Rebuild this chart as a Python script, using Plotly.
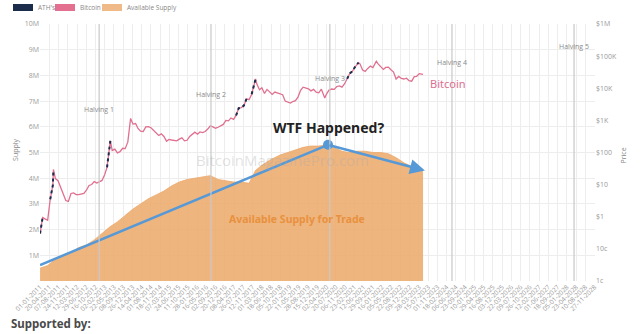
import plotly.graph_objects as go

# ---------------- data ----------------
price_dates = [
    "2011-01-01","2011-02-01","2011-03-01","2011-04-01","2011-05-01","2011-06-01","2011-06-08",
    "2011-07-01","2011-08-01","2011-09-01","2011-10-01","2011-11-01","2011-12-01",
    "2012-01-01","2012-02-01","2012-03-01","2012-04-01","2012-05-01","2012-06-01",
    "2012-07-01","2012-08-01","2012-09-01","2012-10-01","2012-11-01","2012-12-01",
    "2013-01-01","2013-02-01","2013-03-01","2013-04-09","2013-05-01","2013-06-01",
    "2013-07-01","2013-08-01","2013-09-01","2013-10-01","2013-11-01","2013-12-04",
    "2014-01-01","2014-02-01","2014-03-01","2014-04-01","2014-05-01","2014-06-01",
    "2014-07-01","2014-08-01","2014-09-01","2014-10-01","2014-11-01","2014-12-01",
    "2015-01-01","2015-02-01","2015-03-01","2015-04-01","2015-05-01","2015-06-01",
    "2015-07-01","2015-08-01","2015-09-01","2015-10-01","2015-11-01","2015-12-01",
    "2016-01-01","2016-02-01","2016-03-01","2016-04-01","2016-05-01","2016-06-01",
    "2016-07-01","2016-08-01","2016-09-01","2016-10-01","2016-11-01","2016-12-01",
    "2017-01-01","2017-02-01","2017-03-01","2017-04-01","2017-05-01","2017-06-01",
    "2017-07-01","2017-08-01","2017-09-01","2017-10-01","2017-11-01","2017-12-17",
    "2018-01-01","2018-02-01","2018-03-01","2018-04-01","2018-05-01","2018-06-01",
    "2018-07-01","2018-08-01","2018-09-01","2018-10-01","2018-11-01","2018-12-01",
    "2019-01-01","2019-02-01","2019-03-01","2019-04-01","2019-05-01","2019-06-01",
    "2019-07-01","2019-08-01","2019-09-01","2019-10-01","2019-11-01","2019-12-01",
    "2020-01-01","2020-02-01","2020-03-12","2020-04-01","2020-05-01","2020-06-01",
    "2020-07-01","2020-08-01","2020-09-01","2020-10-01","2020-11-01","2020-12-01",
    "2021-01-01","2021-02-01","2021-03-01","2021-04-14","2021-05-01","2021-06-01",
    "2021-07-01","2021-08-01","2021-09-01","2021-10-01","2021-11-10","2021-12-01",
    "2022-01-01","2022-02-01","2022-03-01","2022-04-01","2022-05-01","2022-06-01",
    "2022-07-01","2022-08-01","2022-09-01","2022-10-01","2022-11-01","2022-12-01",
    "2023-01-01","2023-02-01","2023-03-01","2023-04-01","2023-05-15",
]
price_values = [
    0.30, 0.95, 0.86, 0.78, 3.5, 9.6, 29.6,
    15.4, 13.3, 8.2, 5.1, 3.2, 3.0,
    5.3, 5.5, 4.9, 4.9, 5.0, 5.3,
    6.7, 9.4, 10.1, 12.4, 11.2, 12.6,
    13.5, 20.4, 34.5, 230, 116, 128,
    97, 106, 135, 132, 210, 1150,
    770, 800, 560, 460, 450, 630,
    640, 590, 480, 390, 340, 380,
    315, 225, 255, 245, 235, 230,
    260, 285, 230, 240, 315, 375,
    430, 370, 435, 415, 450, 535,
    675, 625, 570, 610, 700, 750,
    1000, 970, 1190, 1080, 1420, 2400,
    2500, 2870, 4700, 4400, 6500, 19500,
    13500, 9000, 10400, 6900, 9200, 7500,
    6400, 7600, 7000, 6600, 6300, 4000,
    3800, 3450, 3850, 4100, 5300, 8600,
    10800, 10000, 9600, 8300, 9200, 7500,
    7200, 9350, 5000, 6600, 8800, 9450,
    9200, 11350, 11900, 10800, 13800, 19700,
    29000, 33500, 45000, 63000, 57700, 36700,
    33500, 41500, 48800, 43800, 69000, 57200,
    47700, 38500, 44400, 45500, 37700, 31800,
    19300, 23300, 20100, 19400, 20500, 17200,
    16600, 23100, 23600, 28500, 27000,
]

supply_dates = [
    "2011-01-01","2011-04-01","2011-07-01","2011-10-01","2012-01-01","2012-04-01",
    "2012-07-01","2012-10-01","2013-01-01","2013-04-01","2013-07-01","2013-10-01",
    "2014-01-01","2014-04-01","2014-07-01","2014-10-01","2015-01-01","2015-04-01",
    "2015-07-01","2015-10-01","2016-01-01","2016-04-01","2016-07-01","2016-10-01",
    "2017-01-01","2017-04-01","2017-07-01","2017-10-01","2017-12-15","2018-03-01",
    "2018-06-01","2018-10-01","2019-01-01","2019-04-01","2019-07-01","2019-10-01",
    "2020-01-01","2020-04-20","2020-07-01","2020-10-01","2020-12-15","2021-04-01",
    "2021-07-01","2021-10-01","2022-01-01","2022-04-01","2022-07-01","2022-10-01",
    "2023-01-01","2023-05-15",
]
supply_values = [
    0.50, 0.60, 0.85, 1.00, 1.10, 1.30,
    1.40, 1.60, 1.85, 2.10, 2.30, 2.55,
    2.80, 3.00, 3.20, 3.35, 3.50, 3.70,
    3.85, 3.95, 4.00, 4.05, 4.10, 3.95,
    3.90, 3.85, 3.85, 3.80, 4.30, 4.50,
    4.70, 4.90, 5.00, 5.10, 5.20, 5.25,
    5.25, 5.30, 5.20, 5.05, 5.00, 5.05,
    5.05, 5.00, 5.00, 4.95, 4.80, 4.60,
    4.45, 4.30,
]
supply_values = [v * 1e6 for v in supply_values]

trend_dates = ["2011-01-01", "2020-04-19", "2023-06-06"]
trend_values = [0.62e6, 5.30e6, 4.30e6]

halving_dates = ["2012-11-28", "2016-07-09", "2020-05-11", "2024-04-20", "2028-03-30"]
halving_labels = ["Halving 1", "Halving 2", "Halving 3", "Halving 4", "Halving 5"]
halving_label_y = [0.693, 0.751, 0.813, 0.875, 0.938]

supply_tickvals = [i * 1e6 for i in range(1, 11)]
supply_ticktext = [f"{i}M" for i in range(1, 11)]
price_tickvals = [0.01, 0.1, 1, 10, 100, 1e3, 1e4, 1e5, 1e6]
price_ticktext = ["1c", "10c", "$1", "$10", "$100", "$1K", "$10K", "$100K", "$1M"]

legend_names = ["ATH's", "Bitcoin", "Available Supply"]

# ---------------- colours ----------------
C_NAVY = "#1c2c4c"
C_PINK = "#e07090"
C_ORANGE = "rgba(236,168,105,0.85)"
C_ORANGE_LEG = "#efba88"
C_BLUE = "#5699d6"
GRAY = "#888888"
TICK = "#9a9a9a"
FONT = "Open Sans"

# ATH points (price equal to running maximum)
ath_values = []
run_max = 0
for v in price_values:
    if v >= run_max:
        run_max = v
        ath_values.append(v)
    else:
        ath_values.append(None)

fig = go.Figure()

fig.add_trace(go.Scatter(
    x=supply_dates, y=supply_values, mode="lines", fill="tozeroy",
    fillcolor=C_ORANGE, line=dict(color="rgba(236,168,105,1)", width=0.8),
    yaxis="y", showlegend=False, hoverinfo="skip"))

fig.add_trace(go.Scatter(
    x=price_dates, y=price_values, mode="lines",
    line=dict(color=C_PINK, width=1.3), yaxis="y2", showlegend=False))

fig.add_trace(go.Scatter(
    x=price_dates, y=ath_values, mode="lines", connectgaps=False,
    line=dict(color=C_NAVY, width=2, dash="dot"), yaxis="y2", showlegend=False))

fig.add_trace(go.Scatter(
    x=trend_dates[:2], y=trend_values[:2], mode="lines",
    line=dict(color=C_BLUE, width=2.5), yaxis="y", showlegend=False))
fig.add_trace(go.Scatter(
    x=[trend_dates[1]], y=[trend_values[1]], mode="markers",
    marker=dict(color=C_BLUE, size=10), yaxis="y", showlegend=False))

annotations = []
annotations.append(dict(
    x=trend_dates[2], y=trend_values[2], xref="x", yref="y",
    ax=trend_dates[1], ay=trend_values[1], axref="x", ayref="y",
    showarrow=True, arrowhead=2, arrowsize=1.2, arrowwidth=2.5,
    arrowcolor=C_BLUE, text=""))

shapes = []
for d in halving_dates:
    shapes.append(dict(type="line", xref="x", yref="paper", x0=d, x1=d, y0=0, y1=1,
                       line=dict(color="#c8c8c8", width=1.2)))
for d, t, yy in zip(halving_dates, halving_labels, halving_label_y):
    annotations.append(dict(x=d, y=yy, xref="x", yref="paper", text=t, showarrow=False,
                            font=dict(size=7, color="#8a8a8a", family=FONT)))

annotations += [
    dict(x="2020-04-25", y=0.598, xref="x", yref="paper", text="<b>WTF Happened?</b>",
         showarrow=False, font=dict(size=14, color="#222222", family="Noto Sans")),
    dict(x="2019-04-20", y=0.206, xref="x", yref="paper", text="<b>Available Supply for Trade</b>",
         showarrow=False, font=dict(size=10.5, color="#e8913e", family="Noto Sans")),
    dict(x="2023-07-11", y=0.805, xref="x", yref="paper", text="Bitcoin", xanchor="left",
         showarrow=False, font=dict(size=11, color="#dc6d90", family="Noto Sans")),
    dict(x="2018-11-01", y=0.47, xref="x", yref="paper", text="BitcoinMagazinePro.com",
         showarrow=False, font=dict(size=15, color="rgba(170,170,170,0.35)", family=FONT)),
    dict(x=-0.055, y=0.51, xref="paper", yref="paper", text="Supply", textangle=-90,
         showarrow=False, font=dict(size=7, color=GRAY, family=FONT)),
    dict(x=1.063, y=0.49, xref="paper", yref="paper", text="Price", textangle=-90,
         showarrow=False, font=dict(size=7, color=GRAY, family=FONT)),
    dict(x=-0.055, y=-0.165, xref="paper", yref="paper", text="<b>Supported by:</b>",
         xanchor="left", yanchor="middle", showarrow=False,
         font=dict(size=11.5, color="#4a4a4a", family="Noto Sans")),
]

def px_x(px):
    return (px - 40) / 555.0

def px_y(py):
    return (281 - py) / 257.0

leg_cols = [C_NAVY, "#e4708f", C_ORANGE_LEG]
leg_x = [13, 55, 102]
for c, x0, name in zip(leg_cols, leg_x, legend_names):
    shapes.append(dict(type="rect", xref="paper", yref="paper",
                       x0=px_x(x0), x1=px_x(x0 + 20), y0=px_y(11), y1=px_y(4),
                       fillcolor=c, line=dict(width=0)))
    annotations.append(dict(x=px_x(x0 + 23), y=px_y(7.5), xref="paper", yref="paper",
                            text=name, xanchor="left", yanchor="middle", showarrow=False,
                            font=dict(size=6.5, color=GRAY, family=FONT)))

fig.update_layout(
    width=640, height=334,
    margin=dict(l=40, r=45, t=24, b=53),
    paper_bgcolor="white", plot_bgcolor="white",
    font=dict(family=FONT, size=7, color=GRAY),
    showlegend=False,
    xaxis=dict(
        type="date", range=["2010-12-31 12:00", "2028-12-02"],
        tick0="2011-01-01", dtick=109 * 86400000, tickformat="%d-%m-%Y",
        tickangle=-45, tickfont=dict(size=6.5, color=TICK),
        showgrid=True, gridcolor="#ededed", gridwidth=1,
        showline=False, zeroline=False, ticks=""),
    yaxis=dict(
        range=[0, 10e6], tickvals=supply_tickvals, ticktext=supply_ticktext,
        showgrid=True, gridcolor="#ededed", zeroline=False,
        tickfont=dict(size=7, color=TICK), ticks=""),
    yaxis2=dict(
        type="log", range=[-2, 6], overlaying="y", side="right",
        tickvals=price_tickvals, ticktext=price_ticktext, showgrid=False,
        zeroline=False, tickfont=dict(size=7, color=TICK), ticks=""),
    shapes=shapes, annotations=annotations,
)

fig.write_html("out.html")
